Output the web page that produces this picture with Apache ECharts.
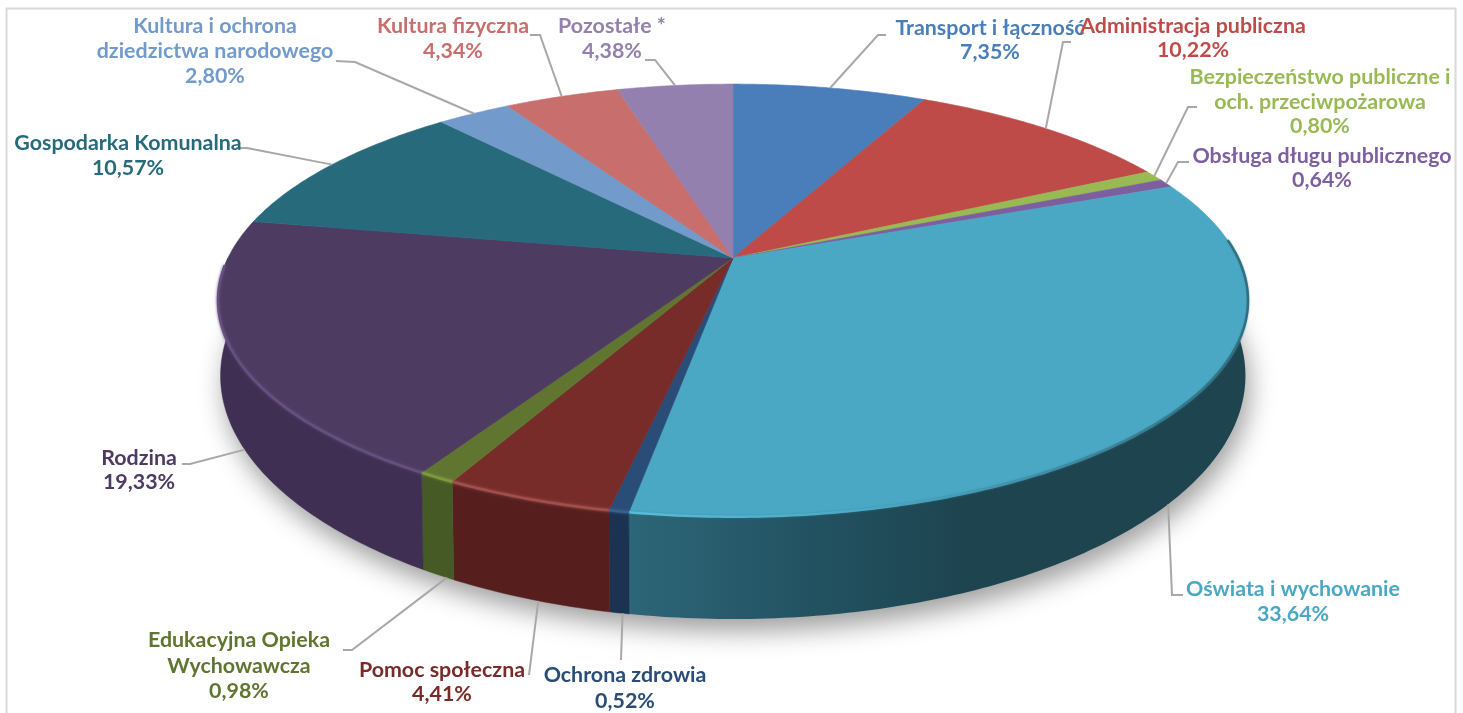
<!DOCTYPE html>
<html>
<head>
<meta charset="utf-8">
<title>Wydatki budzetu</title>
<style>html,body{margin:0;padding:0;background:#fff}#chart{width:1463px;height:713px}</style>
<script src="https://cdn.jsdelivr.net/npm/echarts@6/dist/echarts.min.js"></script>
</head>
<body>
<div id="chart"></div>
<script>
// data, clockwise from 12 o'clock
const categories = [
  'Transport i łączność', 'Administracja publiczna', 'Bezpieczeństwo publiczne i\noch. przeciwpożarowa',
  'Obsługa długu publicznego', 'Oświata i wychowanie', 'Ochrona zdrowia', 'Pomoc społeczna',
  'Edukacyjna Opieka\nWychowawcza', 'Rodzina', 'Gospodarka Komunalna',
  'Kultura i ochrona\ndziedzictwa narodowego', 'Kultura fizyczna', 'Pozostałe *'
];
const shares = [7.35, 10.22, 0.80, 0.64, 33.64, 0.52, 4.41, 0.98, 19.33, 10.57, 2.80, 4.34, 4.38];

// colours
const topColors = ['#4a7ebb', '#be4b48', '#98b954', '#7d5fa0', '#4aa8c4', '#2a4d78', '#772c2a', '#5f7530', '#4d3b62', '#276a7c', '#729aca', '#c86f6d', '#9480ae'];
const wallColors = ['#2c4a70', '#712d2b', '#5a6e32', '#4a3860', '#1f4550', '#1b3350', '#561f1e', '#465a25', '#3f2f52', '#17404a', '#44607c', '#763f3e', '#58496a'];
const rimColors = ['#4a7ebb', '#be4b48', '#98b954', '#7d5fa0', '#58bcd8', '#36608f', '#a0504c', '#7d9a42', '#65507f', '#276a7c', '#729aca', '#c86f6d', '#9480ae'];

// label placement: [centre x, first line y], line gap, leader elbow + stub end
const labelPos = [[990, 29], [1193, 27], [1320, 78], [1322, 157], [1293, 590], [625, 676], [442, 671], [239, 641], [139, 459], [128, 144], [215, 27], [453, 27], [612, 27]];
const lineGaps = [24, 24, 24.5, 24, 25, 26, 24, 25.5, 24, 25, 25, 25, 25];
const leaderElbows = [[[878, 35], [886, 35]], [[1063, 42], [1071, 42]], [[1188, 107], [1197, 107]], [[1178, 162], [1189, 162]],
  [[1172, 595], [1183, 595]], [[621, 660]], [[529, 675]], [[352, 650], [343, 650]], [[190, 464], [182, 464]],
  [[247, 148], [236, 148]], [[355, 62], [336, 61]], [[540, 35], [530, 35]], [[655, 60], [645, 60]]];
const leaderNudge = [0, 0, 0, 0, 2, -0.3, -1, -1, -3.8, 0, 0, 0, 0]; // degrees
const leaderOnWall = [0, 0, 0, 0, 1, 1, 1, 1, 1, 0, 0, 0, 0];

// projection of the disc (slight perspective, front is nearer)
const CX = 733, APEX_Y = 258, RX = 505, RY = 208, PERSP = 0.196;
const WALL_DY = 70, WALL_RY = 234, WALL_SX = 0.995;
const TEXT_STRETCH = 1.07;

function topPoint(deg) {
  const a = deg * Math.PI / 180, u = Math.sin(a), v = -Math.cos(a), w = 1 - PERSP * v;
  return [CX + RX * u / w, APEX_Y + RY * v / w];
}
function wallPoint(deg) {
  const a = deg * Math.PI / 180, u = Math.sin(a), v = -Math.cos(a), w = 1 - PERSP * v;
  return [CX + WALL_SX * RX * u / w, APEX_Y + WALL_DY + WALL_RY * v / w];
}
function arc(fn, from, to) {
  const pts = [], n = Math.max(2, Math.ceil((to - from) / 0.75));
  for (let i = 0; i <= n; i++) pts.push(fn(from + (to - from) * i / n));
  return pts;
}

const total = shares.reduce((a, b) => a + b, 0);
const startAngles = [];
shares.reduce((acc, s, i) => { startAngles[i] = acc / total * 360; return acc + s; }, 0);

function wallFill(i) {
  if (i !== 4) return wallColors[i];
  return {
    type: 'linear', x: 630, y: 0, x2: 960, y2: 0, global: true,
    colorStops: [{ offset: 0, color: '#2d6678' }, { offset: 0.5, color: '#235463' }, { offset: 1, color: '#1e4450' }]
  };
}

// the big slice goes from a bright rim at the front to a soft dark edge on the right
function rimStroke(i) {
  if (i !== 4) return rimColors[i];
  return {
    type: 'linear', x: 630, y: 0, x2: 1248, y2: 0, global: true,
    colorStops: [{ offset: 0, color: '#58bcd8' }, { offset: 0.4, color: '#4aa8c4' }, { offset: 1, color: '#2f6f80' }]
  };
}

function renderSlice(params, api) {
  const i = params.dataIndex;
  const from = startAngles[i];
  const to = from + api.value(0) / total * 360;
  const mid = (from + to) / 2;
  const children = [];

  if (i === 0) {
    // soft shadow below the whole pie
    children.push({
      type: 'polygon', z2: 0,
      shape: { points: arc(wallPoint, 0, 360) },
      style: { fill: '#bbb', shadowBlur: 26, shadowColor: 'rgba(0,0,0,0.38)', shadowOffsetX: 4, shadowOffsetY: 12 }
    });
  }

  // side wall, only the front half matters
  const wFrom = Math.max(from, 90), wTo = Math.min(to, 270);
  if (wTo > wFrom) {
    const up = arc(topPoint, wFrom, wTo), down = arc(wallPoint, wFrom, wTo).reverse();
    children.push({
      type: 'polygon', z2: 1,
      shape: { points: up.concat(down) },
      style: { fill: wallFill(i), stroke: i === 4 ? null : wallColors[i], lineWidth: 0.5 }
    });
  }

  // top face
  const face = [[CX, APEX_Y]].concat(arc(topPoint, from, to));
  children.push({
    type: 'polygon', z2: 2,
    shape: { points: face },
    style: { fill: topColors[i], stroke: topColors[i], lineWidth: 0.6 }
  });

  // rim along the front edge
  const rFrom = Math.max(from, i === 4 ? 85 : 130), rTo = Math.min(to, 268);
  if (rTo > rFrom) {
    children.push({
      type: 'polyline', z2: 3,
      shape: { points: arc(topPoint, rFrom, rTo) },
      style: { fill: null, stroke: rimStroke(i), lineWidth: 2.5, shadowBlur: i === 4 ? 2 : 3, shadowColor: i === 4 ? 'rgba(60,130,150,0.7)' : rimColors[i] }
    });
  }

  // leader line
  const leadAngle = mid + leaderNudge[i];
  const start = leaderOnWall[i] ? wallPoint(leadAngle) : topPoint(leadAngle);
  children.push({
    type: 'polyline', z2: 4,
    shape: { points: [start].concat(leaderElbows[i]) },
    style: { fill: null, stroke: '#a8a8a8', lineWidth: 2 }
  });

  // label
  const lines = categories[i].split('\n').concat(api.value(0).toFixed(2).replace('.', ',') + '%');
  lines.forEach((line, k) => {
    children.push({
      type: 'text', z2: i === 1 ? 6 : 5,
      x: labelPos[i][0], y: labelPos[i][1] + k * lineGaps[i],
      scaleX: TEXT_STRETCH,
      style: {
        text: line, fill: topColors[i], align: 'center', verticalAlign: 'middle',
        font: 'bold 20px Lato'
      }
    });
  });

  return { type: 'group', children };
}

const chart = echarts.init(document.getElementById('chart'), null, { renderer: 'canvas' });
chart.setOption({
  animation: false,
  backgroundColor: '#fff',
  graphic: [{
    type: 'rect', silent: true, z: -1,
    shape: { x: 6.5, y: 8.5, width: 1449, height: 720 },
    style: { fill: 'none', stroke: '#d9d9d9', lineWidth: 2 }
  }],
  series: [{
    type: 'custom',
    coordinateSystem: 'none',
    silent: true,
    clip: false,
    data: shares,
    renderItem: renderSlice
  }]
});
</script>
</body>
</html>
